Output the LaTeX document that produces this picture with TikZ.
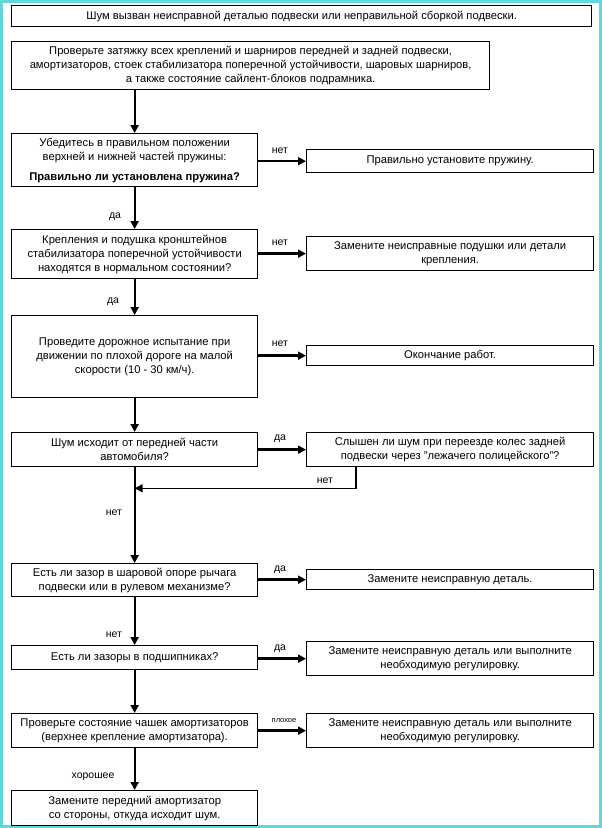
\documentclass[tikz,border=0pt]{standalone}
\usepackage{fontspec}
\setmainfont{Liberation Sans}
\usetikzlibrary{arrows.meta,calc}
\definecolor{framecol}{RGB}{95,215,220}
\begin{document}
\begin{tikzpicture}[x=1pt,y=-1pt,
  box/.style={draw=black,line width=1.3pt,anchor=north west,inner sep=0pt,align=center,
    font=\fontsize{11.2}{14}\selectfont},
  lbox/.style={box,minimum width=246pt},
  rbox/.style={box,minimum width=287pt},
  arr/.style={line width=2pt,-{Triangle[length=8pt,width=8pt]}},
  harr/.style={line width=2.6pt,-{Triangle[length=8pt,width=8pt]}},
  lbl/.style={font=\fontsize{10.5}{12}\selectfont,inner sep=0pt},
]
\useasboundingbox (0,0) rectangle (602,828);
\draw[framecol,line width=3pt] (1.5,1.5) rectangle (600.5,826.5);

\node[box,minimum width=580pt,minimum height=21pt] (t) at (11,5)
  {Шум вызван неисправной деталью подвески или неправильной сборкой подвески.};
\node[box,minimum width=478pt,minimum height=48pt] (b2) at (11,41)
  {Проверьте затяжку всех креплений и шарниров передней и задней подвески,\\
   амортизаторов, стоек стабилизатора поперечной устойчивости, шаровых шарниров,\\
   а также состояние сайлент-блоков подрамника.};

\node[lbox,minimum height=53pt] (b3) at (11,133)
  {Убедитесь в правильном положении\\верхней и нижней частей пружины:\\[6pt]
   \textbf{Правильно ли установлена пружина?}};
\node[rbox,minimum height=23pt] (r3) at (306,149) {Правильно установите пружину.};

\node[lbox,minimum height=49pt] (b4) at (11,229)
  {Крепления и подушка кронштейнов\\стабилизатора поперечной устойчивости\\находятся в нормальном состоянии?};
\node[rbox,minimum height=34pt] (r4) at (306,236) {Замените неисправные подушки или детали\\крепления.};

\node[lbox,minimum height=82pt] (b5) at (11,315)
  {Проведите дорожное испытание при\\движении по плохой дороге на малой\\скорости (10 - 30 км/ч).};
\node[rbox,minimum height=20pt] (r5) at (306,345) {Окончание работ.};

\node[lbox,minimum height=34pt] (b6) at (11,432)
  {Шум исходит от передней части\\автомобиля?};
\node[rbox,minimum height=34pt] (r6) at (306,432)
  {Слышен ли шум при переезде колес задней\\подвески через "лежачего полицейского"?};

\node[lbox,minimum height=33pt] (b7) at (11,563)
  {Есть ли зазор в шаровой опоре рычага\\подвески или в рулевом механизме?};
\node[rbox,minimum height=20pt] (r7) at (306,569) {Замените неисправную деталь.};

\node[lbox,minimum height=24pt] (b8) at (11,645) {Есть ли зазоры в подшипниках?};
\node[rbox,minimum height=34pt] (r8) at (306,641)
  {Замените неисправную деталь или выполните\\необходимую регулировку.};

\node[lbox,minimum height=34pt] (b9) at (11,713)
  {Проверьте состояние чашек амортизаторов\\(верхнее крепление амортизатора).};
\node[rbox,minimum height=34pt] (r9) at (306,713)
  {Замените неисправную деталь или выполните\\необходимую регулировку.};

\node[lbox,minimum height=35pt] (b10) at (11,790)
  {Замените передний амортизатор\\со стороны, откуда исходит шум.};

% vertical main line
\draw[arr] (b2.south -| b3.north) -- (b3.north);
\draw[arr] (b3.south) -- (b4.north);
\draw[arr] (b4.south) -- (b5.north);
\draw[arr] (b5.south) -- (b6.north);
\draw[arr] (b6.south) -- (b7.north);
\draw[arr] (b7.south) -- (b8.north);
\draw[arr] (b8.south) -- (b9.north);
\draw[arr] (b9.south) -- (b10.north);

% horizontal arrows
\draw[harr] (b3.east |- r3.west) -- (r3.west);
\draw[harr] (b4.east |- r4.west) -- (r4.west);
\draw[harr] (b5.east |- r5.west) -- (r5.west);
\draw[harr] (b6.east |- r6.west) -- (r6.west);
\draw[harr] (b7.east |- r7.west) -- (r7.west);
\draw[harr] (b8.east |- r8.west) -- (r8.west);
\draw[harr] (b9.east |- r9.west) -- (r9.west);

% return from r6
\coordinate (ret) at ($(b6.south)+(0,21)$);
\draw[line width=1.6pt,-{Triangle[length=8pt,width=8pt]}] ($(r6.south west)+(50,0)$) |- (ret);

% labels
\node[lbl] at (280,151) {нет};
\node[lbl] at (280,243) {нет};
\node[lbl] at (280,344) {нет};
\node[lbl] at (280,439) {да};
\node[lbl] at (325,481) {нет};
\node[lbl] at (280,570) {да};
\node[lbl] at (280,649) {да};
\node[lbl,font=\fontsize{7.5}{9}\selectfont] at (284,721) {плохое};
\node[lbl] at (115,217) {да};
\node[lbl] at (113,302) {да};
\node[lbl] at (114,513) {нет};
\node[lbl] at (114,635) {нет};
\node[lbl] at (93,777) {хорошее};
\end{tikzpicture}
\end{document}
